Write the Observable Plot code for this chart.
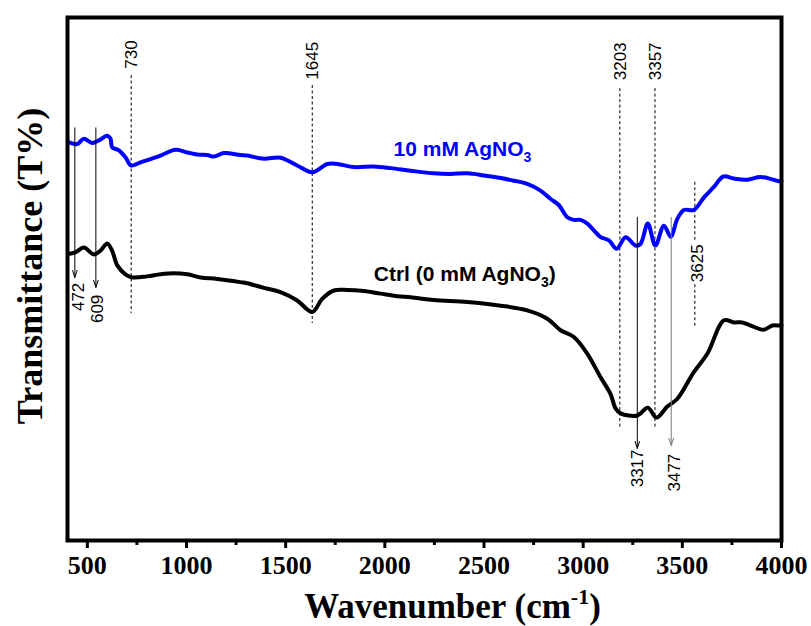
<!DOCTYPE html>
<html>
<head>
<meta charset="utf-8">
<script src="https://cdn.jsdelivr.net/npm/d3@7"></script>
<script src="https://cdn.jsdelivr.net/npm/@observablehq/plot@0.6"></script>
<style>
  html, body { margin: 0; padding: 0; background: #fff; }
  #chart { width: 811px; height: 626px; overflow: hidden; }
</style>
</head>
<body>
<div id="chart"></div>
<script>
// ---- Data (wavenumber, arbitrary transmittance) ----
const blueW = [402, 449, 482, 525, 558, 600, 617, 625, 659, 692, 721, 768, 869, 945, 1004, 1054, 1105, 1138, 1188, 1272,
  1306, 1390, 1474, 1558, 1634, 1710, 1760, 1844, 1945, 2029, 2130, 2247, 2331, 2416, 2499, 2584, 2651, 2718, 2785, 2836,
  2878, 2920, 2953, 2987, 3021, 3054, 3088, 3130, 3169, 3214, 3264, 3289, 3326, 3364, 3407, 3441, 3475, 3508, 3558, 3609,
  3659, 3707, 3760, 3828, 3895, 3987, 4000];
const blueT = [76.2, 75.8, 76.8, 76.0, 76.5, 77.4, 76.8, 75.2, 74.6, 73.3, 71.7, 72.3, 73.6, 74.7, 74.2, 73.8, 73.7, 73.4, 74.1, 73.7,
  73.6, 73.0, 73.2, 71.7, 70.4, 72.0, 72.0, 71.4, 71.5, 71.2, 70.7, 70.2, 70.1, 70.2, 69.8, 69.3, 68.8, 68.2, 66.9, 65.3,
  64.1, 61.8, 61.3, 61.3, 60.6, 59.3, 58.0, 57.4, 55.8, 58.0, 56.4, 56.7, 60.6, 56.4, 60.2, 58.1, 61.5, 63.2, 63.2, 65.6,
  67.6, 69.6, 69.2, 69.0, 69.5, 68.7, 68.7];

const ctrlW = [402, 440, 482, 533, 566, 600, 625, 651, 692, 726, 802, 869, 936, 1004, 1071, 1155, 1272,
  1306, 1390, 1474, 1558, 1634, 1684, 1743, 1811, 1894, 1978, 2063, 2130, 2247, 2416, 2584, 2718, 2819,
  2886, 2953, 3021, 3088, 3138, 3164, 3189, 3273, 3326, 3370, 3424, 3475, 3558, 3626, 3710, 3760, 3802,
  3844, 3911, 3954, 3987, 4000];
const ctrlT = [54.8, 55.1, 56.0, 54.7, 55.4, 56.8, 55.4, 52.6, 50.9, 50.3, 50.5, 50.9, 51.1, 50.9, 50.3, 50.0, 49.4,
  49.2, 48.3, 47.5, 45.9, 43.7, 46.2, 47.8, 47.9, 47.7, 47.2, 46.7, 46.5, 46.0, 45.6, 44.9, 44.0, 42.4,
  40.2, 38.9, 35.7, 31.2, 28.0, 25.2, 24.3, 23.9, 25.4, 23.5, 25.6, 27.1, 32.2, 35.7, 42.1, 41.7, 41.7,
  41.1, 40.3, 41.1, 41.1, 41.1];

const majorTicks = [500, 1000, 1500, 2000, 2500, 3000, 3500, 4000];
const minorTicks = [750, 1250, 1750, 2250, 2750, 3250, 3750];

// peak-marking arrows (solid) and dashed guide lines
const arrowW = [437, 543, 3273, 3444];
const arrowTop = [78.9, 78.9, 61.8, 61.8];
const arrowTip = [50.3, 48.4, 17.6, 18.2];

const dashW = [721, 1634, 3185, 3362, 3563, 3563];
const dashTop = [88.9, 87.0, 86.4, 86.4, 68.5, 48.9];
const dashBottom = [43.4, 41.5, 21.4, 21.4, 57.2, 40.5];

// peak labels reading upwards
const upLabel = ["730", "1645", "3203", "3357", "3625"];
const upLabelW = [723, 1638, 3189, 3366, 3575];
const upLabelT = [90.2, 88.1, 88.0, 88.0, 49.4];
const downLabel = ["472", "609", "3317", "3477"];
const downLabelW = [454, 554, 3275, 3462];
const downLabelT = [49.3, 47.0, 17.4, 16.6];

const seriesNames = ["10 mM AgNO3", "Ctrl (0 mM AgNO3)"];
const seriesLabelW = [2044, 1944];
const seriesLabelT = [74.9, 51.0];

const xTitle = "Wavenumber (cm-1)";
const yTitle = "Transmittance (T%)";

// ---- Tables built from the arrays ----
const blue = blueW.map((w, i) => ({w, t: blueT[i]}));
const ctrl = ctrlW.map((w, i) => ({w, t: ctrlT[i]}));
const arrows = arrowW.map((w, i) => ({w, top: arrowTop[i], tip: arrowTip[i], i}));
const dashes = dashW.map((w, i) => ({w, top: dashTop[i], bottom: dashBottom[i]}));
const ups = upLabel.map((s, i) => ({s, w: upLabelW[i], t: upLabelT[i]}));
const downs = downLabel.map((s, i) => ({s, w: downLabelW[i], t: downLabelT[i]}));
const series = seriesNames.map((s, i) => ({s, w: seriesLabelW[i], t: seriesLabelT[i], i}));

const sans = "Liberation Sans, Arial, sans-serif";
const serif = "Liberation Serif, 'Times New Roman', serif";

const chart = Plot.plot({
  width: 811,
  height: 626,
  marginTop: 17,
  marginRight: 30,
  marginBottom: 86,
  marginLeft: 67,
  style: {background: "#fff", color: "#000"},
  x: {domain: [400, 4000]},
  y: {domain: [0, 100], axis: null},
  marks: [
    Plot.ruleX(dashes, {x: "w", y1: "top", y2: "bottom", stroke: "#000", strokeWidth: 1, strokeDasharray: "3,2.5"}),
    Plot.line(ctrl, {x: "w", y: "t", curve: "catmull-rom", stroke: "#000", strokeWidth: 4, strokeLinejoin: "round", strokeLinecap: "round"}),
    Plot.line(blue, {x: "w", y: "t", curve: "catmull-rom", stroke: "#0000ff", strokeWidth: 4, strokeLinejoin: "round", strokeLinecap: "round"}),
    Plot.arrow(arrows, {x1: "w", x2: "w", y1: "top", y2: "tip", headLength: 11, headAngle: 36, strokeWidth: 1,
      stroke: d => d.i === 3 ? "#7a7a7a" : "#000"}),
    Plot.text(ups, {x: "w", y: "t", text: "s", rotate: -90, textAnchor: "start", lineAnchor: "middle",
      fontFamily: sans, fontSize: 17, fill: "#000"}),
    Plot.text(downs, {x: "w", y: "t", text: "s", rotate: -90, textAnchor: "end", lineAnchor: "middle",
      fontFamily: sans, fontSize: 17, fill: "#000"}),
    Plot.text(series, {x: "w", y: "t", text: "s", textAnchor: "start", lineAnchor: "middle",
      fontFamily: sans, fontSize: 21, fontWeight: "bold", fill: d => d.i === 0 ? "#0000ff" : "#000"}),
    Plot.frame({stroke: "#000", strokeWidth: 4}),
    Plot.axisX({ticks: majorTicks, tickSize: 8, tickPadding: 7, strokeWidth: 3, label: null,
      fontFamily: serif, fontSize: 26, fontWeight: "bold", tickFormat: d => String(d)}),
    Plot.axisX({ticks: minorTicks, tickSize: 5, strokeWidth: 3, label: null, tickFormat: () => ""}),
    Plot.text([xTitle], {frameAnchor: "bottom", dx: 28, dy: 77, text: d => d, textAnchor: "middle", lineAnchor: "bottom",
      fontFamily: serif, fontSize: 35, fontWeight: "bold", fill: "#000"}),
    Plot.text([yTitle], {frameAnchor: "left", dx: -37, dy: -13, text: d => d, rotate: -90,
      textAnchor: "middle", lineAnchor: "middle",
      fontFamily: serif, fontSize: 36, fontWeight: "bold", fill: "#000"})
  ]
});

document.getElementById("chart").appendChild(chart);

// subscripts / superscripts as real text
d3.select(chart).selectAll("text").each(function () {
  const el = d3.select(this);
  const s = this.textContent;
  if (this.querySelector("tspan")) return;
  let k = s.indexOf("NO3");
  if (k >= 0) {
    const pre = s.slice(0, k + 2), post = s.slice(k + 3);
    el.text(null);
    el.append("tspan").text(pre);
    el.append("tspan").attr("dy", 6).attr("font-size", 14).text("3");
    if (post) el.append("tspan").attr("dy", -6).text(post);
    return;
  }
  k = s.indexOf("cm-1");
  if (k >= 0) {
    const pre = s.slice(0, k + 2), post = s.slice(k + 4);
    el.text(null);
    el.append("tspan").text(pre);
    el.append("tspan").attr("dy", -14).attr("font-size", 22).text("-1");
    el.append("tspan").attr("dy", 14).text(post);
  }
});
</script>
</body>
</html>
